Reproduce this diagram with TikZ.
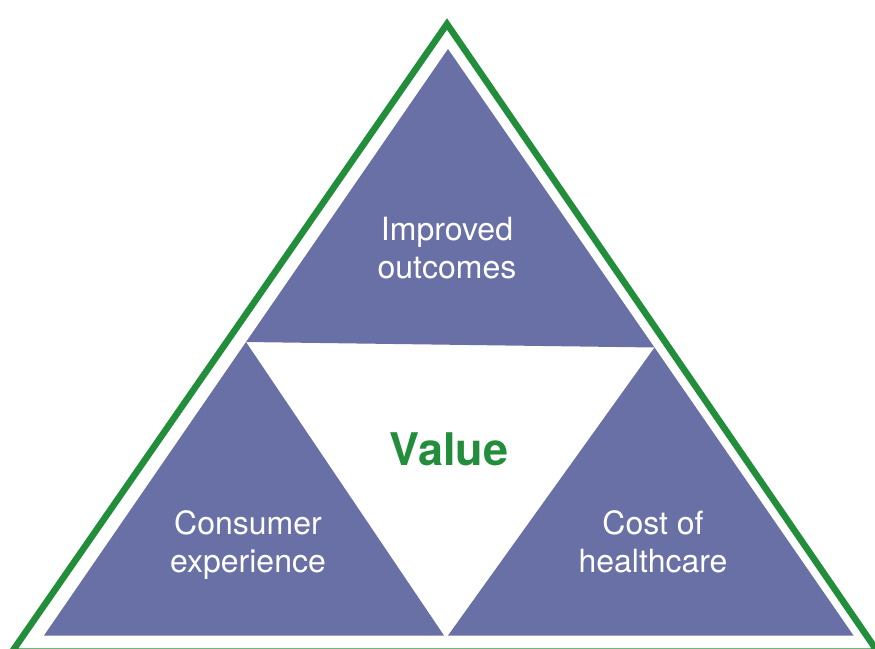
\documentclass[tikz,border=0pt]{standalone}
\usepackage{fontspec}
\setmainfont{TeX Gyre Heros}
\usepackage{tikz}

\definecolor{valgreen}{RGB}{34,142,60}
\definecolor{valpurple}{RGB}{104,112,166}

\tikzset{
  lbl/.style={text=white, align=center, inner sep=0pt,
    font=\fontsize{32}{38.5}\selectfont},
  corner/.style={fill=valpurple, draw=none}
}

\begin{document}
\begin{tikzpicture}[x=1pt, y=-1pt]
    \useasboundingbox (0,0) rectangle (875,648);
    \clip (0,0) rectangle (875,648);

    % Outer frame:
    \draw[valgreen, line width=6.5pt] (447,24) -- (877.5,651.5) -- (12.2,651.5) -- cycle;

    % Three inner triangles:
    \coordinate (top) at (448,49);
    \coordinate (midl) at (246,342);
    \coordinate (midr) at (654.5,347.5);
    \fill[corner] (top) -- (midl) -- (midr) -- cycle;
    \fill[corner] (midl) -- (44,635.5) -- (444,635.5) -- cycle;
    \fill[corner] (midr) -- (448,635.5) -- (853.5,635.5) -- cycle;

    % Labels:
    \node[lbl] (outcomes) at (447,248) {Improved\\outcomes};
    \node[lbl] (consumer) at (248,545) {Consumer\\experience};
    \node[lbl] (cost) at (653,542) {Cost of\\healthcare};
    \node[text=valgreen, inner sep=0pt, font=\fontsize{45}{54}\selectfont\bfseries] (value) at (449,449) {Value};
  \end{tikzpicture}
\end{document}
